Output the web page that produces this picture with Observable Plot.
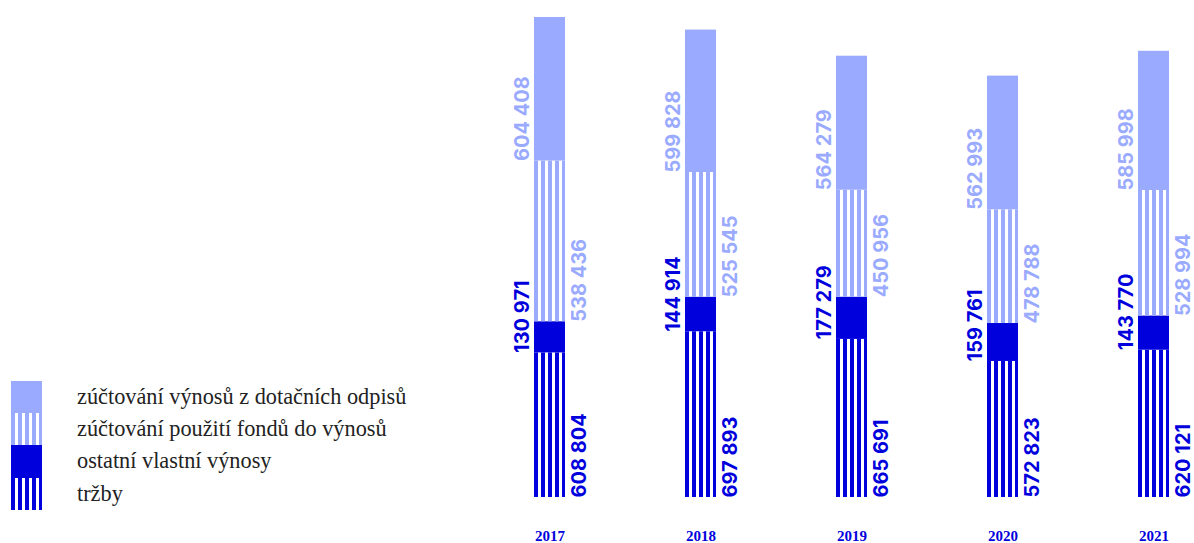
<!DOCTYPE html>
<html><head><meta charset="utf-8">
<script src="https://cdn.jsdelivr.net/npm/d3@7"></script>
<script src="https://cdn.jsdelivr.net/npm/@observablehq/plot@0.6"></script>
<style>
body{margin:0;background:#fff;}
#wrap{position:relative;width:1194px;height:543px;overflow:hidden;}
#legend{position:absolute;left:11px;top:381px;font-family:"Liberation Serif",serif;font-size:22.3px;color:#222;}
.row{display:flex;align-items:center;height:32.2px;}
.sw{width:31px;height:100%;margin-right:35px;flex:none;}
</style></head><body><div id="wrap"><div id="chart"></div><div id="legend"></div></div>
<script>
const years = ["2017", "2018", "2019", "2020", "2021"];
const trzby = [608804, 697893, 665691, 572823, 620121];
const ostatni = [130971, 144914, 177279, 159761, 143770];
// printed labels for "fondy"
const fondy = [538436, 525545, 450956, 478788, 528994];
// segment height as drawn in the reference (2017 bar is drawn taller than its label)
const fondyDrawn = [677000, 525545, 450956, 478788, 528994];
const odpisy = [604408, 599828, 564279, 562993, 585998];
const seriesNames = ["tržby", "ostatní vlastní výnosy", "zúčtování použití fondů do výnosů", "zúčtování výnosů z dotačních odpisů"];

const DARK = "#0000dd", LIGHT = "#99aaff";
const fillOf = {
  "tržby": "url(#stripeDark)",
  "ostatní vlastní výnosy": DARK,
  "zúčtování použití fondů do výnosů": "url(#stripeLight)",
  "zúčtování výnosů z dotačních odpisů": LIGHT
};
const textColorOf = {
  "tržby": DARK, "ostatní vlastní výnosy": DARK,
  "zúčtování použití fondů do výnosů": LIGHT, "zúčtování výnosů z dotačních odpisů": LIGHT
};
const sideOf = {
  "tržby": "right", "ostatní vlastní výnosy": "left",
  "zúčtování použití fondů do výnosů": "right", "zúčtování výnosů z dotačních odpisů": "left"
};

const fmt = v => d3.format(",")(v).replace(/,/g, " ");
const drawn = [trzby, ostatni, fondyDrawn, odpisy];
const printed = [trzby, ostatni, fondy, odpisy];
const data = [];
years.forEach((y, i) => {
  seriesNames.forEach((s, j) => {
    data.push({year: y, series: s, value: drawn[j][i], label: fmt(printed[j][i])});
  });
});

const textCommon = {
  x: "year", y: "value", z: "series",
  rotate: -90, textAnchor: "start",
  fontFamily: "Inter, 'Liberation Sans', sans-serif", fontWeight: 700, fontSize: 20,
  fill: d => textColorOf[d.series]
};

const svg = Plot.plot({
  width: 1194, height: 543,
  marginLeft: 533, marginRight: 24, marginTop: 17, marginBottom: 46,
  x: {type: "band", domain: years, paddingInner: 0.7954, paddingOuter: 0, axis: null},
  y: {axis: null},
  color: {type: "identity"},
  marks: [
    Plot.barY(data, Plot.stackY({x: "year", y: "value", z: "series", fill: d => fillOf[d.series]})),
    Plot.text(data, Plot.stackY1({...textCommon, text: d => sideOf[d.series] === "left" ? d.label : "", lineAnchor: "bottom", dx: -21.5})),
    Plot.text(data, Plot.stackY1({...textCommon, text: d => sideOf[d.series] === "right" ? d.label : "", lineAnchor: "top", dx: 21.5})),
    Plot.axisX({tickSize: 0, tickPadding: 33, label: null, fontFamily: "'Liberation Serif', serif", fontWeight: 700, fontSize: 15, color: DARK, fill: DARK})
  ]
});

const defs = d3.select(svg).insert("defs", ":first-child");
function stripes(id, color) {
  const p = defs.append("pattern").attr("id", id)
    .attr("patternUnits", "objectBoundingBox")
    .attr("width", 7 / 31).attr("height", 1);
  p.append("rect").attr("x", 0).attr("y", 0).attr("width", 4).attr("height", 3000).attr("fill", color);
}
stripes("stripeDark", DARK);
stripes("stripeLight", LIGHT);
document.getElementById("chart").appendChild(svg);

// legend (top to bottom as in the reference)
const legendOrder = seriesNames.slice().reverse();
const cssFill = {
  "tržby": `repeating-linear-gradient(to right, ${DARK} 0 4px, #fff 4px 7px)`,
  "ostatní vlastní výnosy": DARK,
  "zúčtování použití fondů do výnosů": `repeating-linear-gradient(to right, ${LIGHT} 0 4px, #fff 4px 7px)`,
  "zúčtování výnosů z dotačních odpisů": LIGHT
};
const legend = d3.select("#legend");
legendOrder.forEach(s => {
  const row = legend.append("div").attr("class", "row");
  row.append("div").attr("class", "sw").style("background", cssFill[s]);
  row.append("span").text(s);
});
</script>
</body></html>
